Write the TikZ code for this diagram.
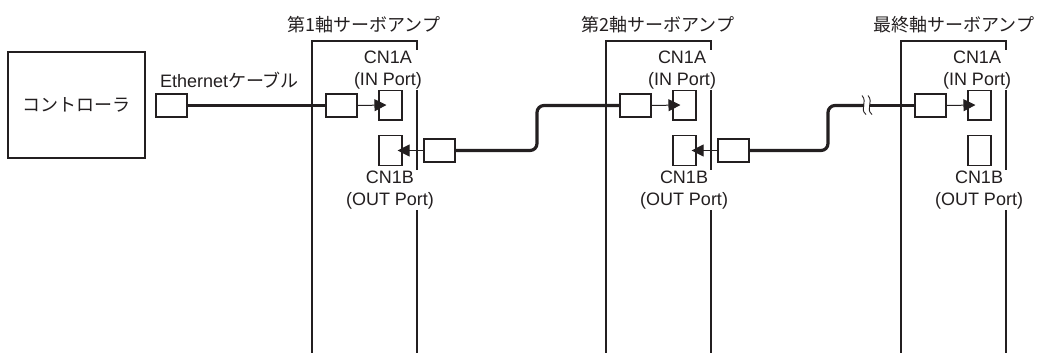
\documentclass[tikz,border=0pt]{standalone}
\usepackage{fontspec}
\setmainfont{Liberation Sans}
\newfontfamily\jp{Noto Sans CJK JP}
\usetikzlibrary{arrows.meta}
\definecolor{ink}{HTML}{231F20}
\begin{document}
\begin{tikzpicture}[x=1pt,y=-1pt,
  every node/.style={font=\fontsize{18}{22}\selectfont, text=ink},
  boxline/.style={draw=ink, line width=1.1pt},
  plug/.style={draw=ink, line width=1.1pt, fill=white, minimum width=31pt, minimum height=23pt, inner sep=0pt},
  port/.style={draw=ink, line width=1.1pt, fill=white, minimum width=23pt, minimum height=30pt, inner sep=0pt},
  cable/.style={draw=ink, line width=3.2pt},
  sig/.style={draw=ink, line width=1pt, -{Triangle[length=12pt,width=12pt]}},
  plabel/.style={align=center, fill=white, inner sep=1pt},
  brk/.style={draw=ink, line width=0.9pt}
]
\useasboundingbox (0,0) rectangle (1038,353);

% controller
\node[draw=ink, line width=1.1pt, minimum width=137pt, minimum height=106pt, inner sep=0pt] (ctrl) at (76.5,105) {\jp コントローラ};
\node (ethlbl) at (229.5,80) {Ethernet{\jp ケーブル}};
\node[plug] (ep) at (171.5,105.5) {};

% amplifiers
\foreach \i/\dx in {1/0,2/294,3/589}{
  \draw[boxline] (312+\dx,353) -- (312+\dx,41) -- (417+\dx,41) -- (417+\dx,353);
  \node[port] (in\i) at (390.5+\dx,105) {};
  \node[port] (out\i) at (390.5+\dx,150.5) {};
  \node[plug] (ip\i) at (341.5+\dx,105.5) {};
  \node[plabel] (la\i) at (388+\dx,70) {CN1A\\(IN Port)};
  \node[plabel] (lb\i) at (390+\dx,190) {CN1B\\(OUT Port)};
  \draw[sig] (ip\i.east) -- ([xshift=8pt]in\i.west);
}
\node (t1) at (364,25) {\jp 第1軸サーボアンプ};
\node (t2) at (658,25) {\jp 第2軸サーボアンプ};
\node (t3) at (954,25) {\jp 最終軸サーボアンプ};

\node[plug] (op1) at (439.5,150.5) {};
\node[plug] (op2) at (733.5,150.5) {};
\draw[sig] (op1.west) -- ([xshift=-5pt]out1.east);
\draw[sig] (op2.west) -- ([xshift=-5pt]out2.east);

% cables
\coordinate (b1) at (864,105.5);
\coordinate (b2) at (870,105.5);
\draw[cable] (ep.east) -- (ip1.west);
\draw[cable, rounded corners=7pt] (op1.east) -- (537,150.5) -- (537,105.5) -- (ip2.west);
\draw[cable, rounded corners=7pt] (op2.east) -- (828,150.5) -- (828,105.5) -- (b1);
\draw[cable] (b2) -- (ip3.west);
\draw[brk] ([xshift=2pt,yshift=-9pt]b1) .. controls ([xshift=-5pt,yshift=-3pt]b1) and ([xshift=4pt,yshift=3pt]b1) .. ([xshift=-2pt,yshift=10pt]b1);
\draw[brk] ([xshift=2pt,yshift=-9pt]b2) .. controls ([xshift=-5pt,yshift=-3pt]b2) and ([xshift=4pt,yshift=3pt]b2) .. ([xshift=-2pt,yshift=10pt]b2);
\end{tikzpicture}
\end{document}
